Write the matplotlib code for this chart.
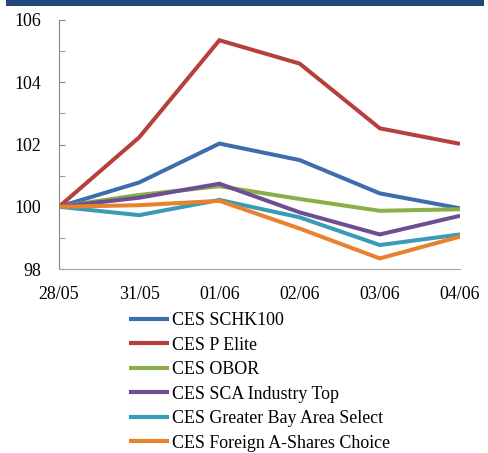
import matplotlib
matplotlib.use("Agg")
import matplotlib.pyplot as plt
from matplotlib.patches import Rectangle

dates = ["28/05", "31/05", "01/06", "02/06", "03/06", "04/06"]
schk100 = [100.0, 100.78, 102.03, 101.50, 100.43, 99.95]
p_elite = [100.0, 102.23, 105.35, 104.60, 102.52, 102.02]
obor = [100.0, 100.38, 100.66, 100.25, 99.87, 99.92]
sca_top = [100.0, 100.29, 100.74, 99.82, 99.11, 99.71]
gba_select = [100.0, 99.73, 100.22, 99.66, 98.77, 99.11]
foreign_a = [100.0, 100.05, 100.19, 99.30, 98.34, 99.04]

series = [
    ("CES SCHK100", schk100, "#3E6DAE"),
    ("CES P Elite", p_elite, "#B5403D"),
    ("CES OBOR", obor, "#8AAF47"),
    ("CES SCA Industry Top", sca_top, "#6E4E93"),
    ("CES Greater Bay Area Select", gba_select, "#3A9BB5"),
    ("CES Foreign A-Shares Choice", foreign_a, "#E8822F"),
]

plt.rcParams['font.family'] = 'serif'
plt.rcParams['font.serif'] = ['Liberation Serif', 'DejaVu Serif']
FS = 12.9

fig = plt.figure(figsize=(4.88, 4.53), dpi=100)
fig.patches.append(Rectangle((6/488, 1-6/453), 478/488, 6/453, transform=fig.transFigure,
                             facecolor="#1F497D", edgecolor="none"))
ax = fig.add_axes([59/488, 1-269/453, 401/488, 249/453])

x = list(range(len(dates)))
for name, vals, col in series:
    ax.plot(x, vals, color=col, lw=2.9, label=name, solid_capstyle='butt', solid_joinstyle='miter')

ax.set_xlim(0, len(dates)-1)
ax.set_ylim(98, 106)
ax.set_yticks([98, 100, 102, 104, 106])
ax.set_yticks([99, 101, 103, 105], minor=True)
ax.set_xticks(x)
ax.set_xticklabels(dates)
for s in ["top", "right"]:
    ax.spines[s].set_visible(False)
ax.spines["left"].set_color("#868686")
ax.spines["bottom"].set_color("#A6A6A6")
ax.tick_params(axis='y', which='both', direction='in', length=4, color="#868686",
               labelsize=FS, pad=13)
ax.tick_params(axis='x', length=0, labelsize=FS, pad=12)
for lab in ax.get_xticklabels() + ax.get_yticklabels():
    lab.set_family('Liberation Serif')

leg = ax.legend(loc='upper left', bbox_to_anchor=(129/488, 1-312/453), bbox_transform=fig.transFigure,
                frameon=False, prop={'family': 'Liberation Serif', 'size': FS},
                handlelength=2.23, handletextpad=0.17,
                labelspacing=0.42, borderpad=0, borderaxespad=0)
for ln in leg.get_lines():
    ln.set_linewidth(3)

fig.savefig("out.png", dpi=100)
